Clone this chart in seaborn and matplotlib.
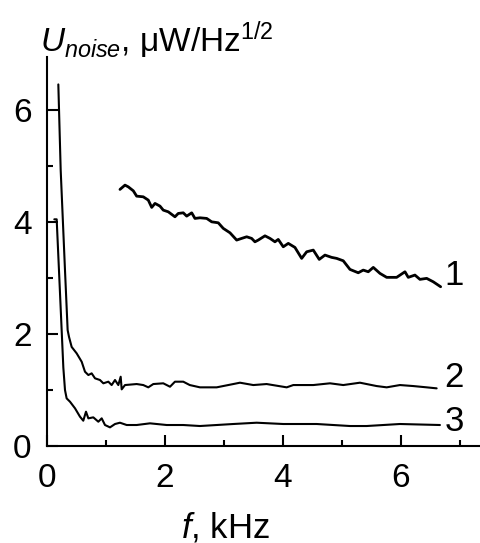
import numpy as np
import pandas as pd
import matplotlib
matplotlib.use("Agg")
import matplotlib.pyplot as plt
import seaborn as sns
from matplotlib.ticker import MultipleLocator

# curve 1
f1 = [1.237, 1.322, 1.378, 1.463, 1.520, 1.632, 1.717, 1.775, 1.831, 1.915,
      1.971, 2.056, 2.169, 2.225, 2.310, 2.368, 2.453, 2.508, 2.593, 2.707,
      2.792, 2.903, 2.988, 3.102, 3.215, 3.300, 3.385, 3.469, 3.525, 3.581,
      3.695, 3.780, 3.864, 3.920, 4.005, 4.090, 4.203, 4.317, 4.402, 4.514,
      4.615, 4.712, 4.825, 4.910, 5.022, 5.136, 5.276, 5.361, 5.446, 5.531,
      5.644, 5.758, 5.927, 6.068, 6.124, 6.237, 6.322, 6.436, 6.547, 6.673]
u1 = [4.584, 4.661, 4.630, 4.559, 4.464, 4.452, 4.393, 4.263, 4.334, 4.286,
      4.214, 4.184, 4.095, 4.155, 4.166, 4.107, 4.166, 4.066, 4.077, 4.066,
      4.005, 3.988, 3.888, 3.809, 3.679, 3.709, 3.738, 3.709, 3.648, 3.679,
      3.755, 3.709, 3.648, 3.691, 3.559, 3.620, 3.548, 3.352, 3.470, 3.500,
      3.334, 3.411, 3.370, 3.352, 3.309, 3.155, 3.095, 3.143, 3.113, 3.191,
      3.084, 3.013, 3.013, 3.113, 3.013, 3.054, 2.977, 2.995, 2.934, 2.845]

# curve 2
f2 = [0.192, 0.232, 0.305, 0.350, 0.373, 0.418, 0.503, 0.588, 0.644, 0.701,
      0.757, 0.814, 0.898, 0.955, 1.040, 1.096, 1.153, 1.209, 1.249, 1.266,
      1.322, 1.520, 1.632, 1.717, 1.802, 1.971, 2.085, 2.169, 2.310, 2.420,
      2.593, 2.876, 3.158, 3.271, 3.497, 3.723, 4.063, 4.175, 4.514, 4.797,
      5.022, 5.305, 5.588, 5.758, 5.983, 6.209, 6.436, 6.605]
u2 = [6.46, 4.93, 3.14, 2.07, 1.95, 1.77, 1.655, 1.505, 1.327, 1.268,
      1.298, 1.209, 1.179, 1.120, 1.149, 1.089, 1.179, 1.089, 1.238, 1.012,
      1.089, 1.107, 1.089, 1.048, 1.107, 1.120, 1.059, 1.149, 1.149, 1.089,
      1.048, 1.048, 1.107, 1.131, 1.089, 1.107, 1.048, 1.089, 1.089, 1.120,
      1.089, 1.131, 1.071, 1.048, 1.089, 1.071, 1.048, 1.030]

# curve 3
f3 = [0.124, 0.164, 0.203, 0.277, 0.305, 0.333, 0.390, 0.475, 0.559, 0.615,
      0.661, 0.701, 0.785, 0.870, 0.927, 0.983, 1.068, 1.153, 1.237, 1.351,
      1.520, 1.746, 2.029, 2.310, 2.593, 3.158, 3.554, 4.005, 4.571, 5.136,
      5.419, 5.983, 6.661]
u3 = [4.05, 4.05, 3.14, 1.40, 1.00, 0.851, 0.791, 0.673, 0.524, 0.452,
      0.613, 0.494, 0.512, 0.434, 0.494, 0.375, 0.333, 0.393, 0.416, 0.375,
      0.375, 0.405, 0.375, 0.375, 0.357, 0.393, 0.416, 0.393, 0.393, 0.357,
      0.357, 0.393, 0.375]

curve_labels = ["1", "2", "3"]
label_y = [3.04, 1.23, 0.43]

sns.set_style("ticks")
plt.rcParams["font.family"] = ["Liberation Sans", "DejaVu Sans"]
plt.rcParams["mathtext.fontset"] = "custom"
plt.rcParams["mathtext.rm"] = "Liberation Sans"
plt.rcParams["mathtext.it"] = "Liberation Sans:italic"
for key in ["text.color", "axes.labelcolor", "axes.edgecolor", "xtick.color", "ytick.color"]:
    plt.rcParams[key] = "black"

fig = plt.figure(figsize=(4.8, 5.43), dpi=100)
ax = fig.add_axes([47 / 480, 97 / 543, 433 / 480, 389 / 543])

sns.lineplot(x=f1, y=u1, ax=ax, color="black", lw=2.0, sort=False, estimator=None)
sns.lineplot(x=f2, y=u2, ax=ax, color="black", lw=1.5, sort=False, estimator=None)
sns.lineplot(x=f3, y=u3, ax=ax, color="black", lw=1.5, sort=False, estimator=None)

for lab, yy in zip(curve_labels, label_y):
    ax.text(6.9, yy, lab, fontsize=25, ha="center", va="center")

ax.set_xlim(0, 7.34)
ax.set_ylim(0, 6.95)
ax.xaxis.set_major_locator(MultipleLocator(2))
ax.xaxis.set_minor_locator(MultipleLocator(1))
ax.yaxis.set_major_locator(MultipleLocator(2))
ax.yaxis.set_minor_locator(MultipleLocator(1))
ax.tick_params(which="both", direction="in", width=1.5, labelsize=24)
ax.tick_params(which="major", length=8)
ax.tick_params(which="minor", length=4)
ax.tick_params(axis="x", pad=12)
ax.tick_params(axis="y", pad=11)
for s in ["left", "bottom"]:
    ax.spines[s].set_linewidth(1.5)
sns.despine(ax=ax)

fig.text(226 / 480, 1 - 527 / 543, r"$f$, kHz", fontsize=25, ha="center", va="center")
fig.text(40 / 480, 1 - 40 / 543, r"$U_{noise}$, μW/Hz$^{1/2}$", fontsize=24,
         ha="left", va="center")

fig.savefig("out.png", dpi=100)
